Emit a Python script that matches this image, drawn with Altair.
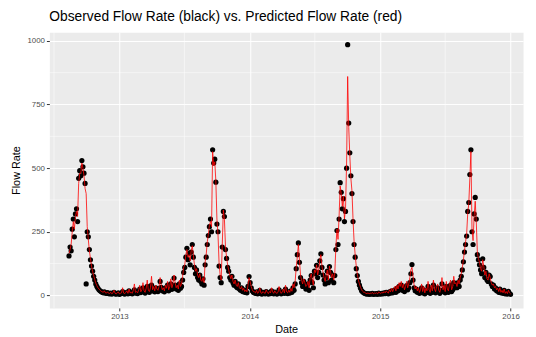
import altair as alt
import pandas as pd

# Observed flow rate, every 3 days from 2012-08-13
obs_2012_peak = [155, 190, 175, 260, 300, 230, 320, 340, 290, 460,
                 490, 470, 530, 505, 480, 440, 45, 250, 230, 180,
                 140, 115, 95, 75, 60, 45, 35, 28]
obs_2013_low = [22, 18, 15, 12, 10, 14, 9, 8, 11, 7,
                6, 9, 5, 8, 12, 6, 5, 7, 10, 4,
                6, 8, 15, 7, 5, 9, 12, 6, 18, 8,
                10, 6, 14, 22, 9, 12, 7, 16, 25, 11,
                18, 30, 14, 9, 20, 35, 15, 12, 24, 40,
                18, 26, 14, 30, 20, 15, 28, 55, 32, 18,
                25, 14, 30, 22, 40, 18, 28, 45, 24, 35,
                68, 40, 25, 32, 20, 45, 28, 35, 60, 90]
obs_2013_peak = [110, 150, 185, 140, 165, 120, 170, 200, 150, 110,
                 85, 100, 70, 60, 80, 55, 45, 65, 40, 120,
                 150, 200, 235, 270, 300, 250, 572, 520, 535, 445,
                 280, 250, 115, 70, 50, 190, 330, 310, 180, 145,
                 110, 95, 70, 60, 75, 50, 40, 55, 35, 30,
                 45, 25, 20, 30, 15, 22, 12, 18, 10, 35,
                 74, 50, 30, 18, 12]
obs_2014_low = [10, 8, 14, 6, 9, 20, 7, 5, 12, 8,
                6, 15, 9, 5, 11, 7, 18, 10, 6, 13,
                8, 5, 9, 22, 12, 6, 10, 15, 8, 25,
                10, 7, 14, 9, 18, 12, 30, 20]
obs_2014_peak = [45, 105, 160, 206, 130, 70, 50, 35, 55, 40,
                 25, 30, 45, 20, 60, 78, 50, 30, 95, 85,
                 118, 70, 90, 136, 163, 110, 80, 60, 45, 70,
                 95, 50, 113, 90, 60, 80, 50, 78, 180, 255,
                 200, 300, 443, 405, 340, 380, 290, 330, 500, 985,
                 677, 560, 470, 400, 290, 200, 150, 105, 78, 55,
                 40, 28, 18, 14, 10]
obs_2015_low = [8, 6, 5, 7, 4, 6, 5, 8, 4, 6,
                5, 7, 4, 9, 6, 5, 8, 6, 10, 7,
                12, 8, 6, 14, 9, 18, 10, 15, 22, 12,
                28, 18, 35, 25, 40, 20, 30, 15, 25, 38,
                22, 30, 50, 85, 121, 60, 30, 18, 25, 12,
                20, 8, 15, 30, 10, 22, 6, 18, 12, 35,
                15, 8, 25, 12, 40, 18, 10, 22, 30, 14,
                8, 20, 45, 15, 25, 10, 35, 18, 12, 28,
                40, 15, 22, 50, 30]
obs_2015_peak = [40, 30, 50, 35, 60, 75, 100, 132, 170, 200,
                 233, 330, 365, 475, 572, 250, 200, 320, 385, 300,
                 160, 140, 120, 100, 85, 144, 110, 70, 90, 60,
                 55, 80, 74, 45, 35, 40, 25, 30, 18, 22,
                 12, 25, 10, 15, 8, 20, 6, 12, 5, 16,
                 8, 4]

# Predicted flow rate, same dates
pred_2012_peak = [165, 180, 200, 250, 290, 260, 310, 330, 310, 440,
                  480, 480, 520, 500, 470, 420, 400, 270, 220, 175,
                  145, 115, 95, 78, 62, 48, 38, 30]
pred_2013_low = [25, 20, 16, 14, 12, 18, 10, 9, 14, 8,
                 8, 12, 6, 10, 20, 8, 6, 9, 14, 6,
                 8, 10, 30, 9, 7, 12, 18, 8, 25, 10,
                 12, 8, 20, 45, 12, 15, 10, 22, 40, 14,
                 22, 50, 18, 12, 28, 60, 20, 15, 30, 75,
                 22, 35, 18, 40, 25, 20, 35, 70, 40, 22,
                 30, 18, 40, 28, 55, 22, 35, 65, 30, 45,
                 80, 50, 30, 40, 25, 60, 35, 45, 75, 110]
pred_2013_peak = [120, 160, 180, 150, 160, 135, 175, 195, 160, 120,
                  95, 105, 80, 70, 85, 60, 55, 70, 50, 130,
                  160, 210, 240, 275, 290, 270, 565, 510, 525, 450,
                  300, 240, 130, 80, 60, 200, 335, 300, 190, 150,
                  120, 100, 80, 65, 80, 55, 45, 60, 40, 35,
                  50, 30, 25, 35, 20, 28, 15, 22, 14, 40,
                  70, 55, 35, 22, 15]
pred_2014_low = [14, 10, 20, 8, 12, 30, 10, 8, 15, 10,
                 8, 22, 12, 7, 15, 10, 30, 14, 8, 18,
                 10, 8, 12, 35, 16, 8, 14, 25, 10, 40,
                 14, 10, 20, 12, 28, 16, 45, 30]
pred_2014_peak = [55, 110, 150, 200, 140, 80, 60, 45, 65, 50,
                  35, 40, 55, 30, 70, 85, 60, 40, 100, 90,
                  120, 80, 100, 140, 160, 115, 90, 70, 55, 80,
                  100, 60, 115, 95, 70, 85, 60, 90, 190, 260,
                  220, 310, 430, 400, 350, 390, 300, 340, 520, 860,
                  660, 550, 460, 410, 300, 210, 160, 115, 85, 60,
                  45, 32, 22, 16, 12]
pred_2015_low = [12, 8, 7, 10, 6, 9, 7, 12, 6, 9,
                 8, 10, 6, 14, 9, 8, 12, 9, 15, 10,
                 18, 12, 9, 22, 14, 28, 15, 25, 35, 18,
                 40, 25, 50, 35, 55, 30, 45, 22, 35, 55,
                 30, 45, 70, 100, 110, 75, 40, 25, 35, 18,
                 30, 12, 22, 45, 15, 35, 10, 28, 18, 55,
                 22, 12, 40, 18, 60, 25, 15, 35, 45, 20,
                 12, 30, 70, 22, 40, 15, 55, 25, 18, 45,
                 60, 22, 35, 75, 45]
pred_2015_peak = [50, 35, 60, 45, 70, 85, 110, 140, 175, 210,
                  240, 320, 360, 460, 565, 260, 215, 310, 370, 290,
                  170, 145, 130, 105, 95, 140, 115, 80, 95, 65,
                  60, 85, 70, 50, 40, 45, 30, 35, 22, 28,
                  15, 30, 12, 20, 10, 25, 8, 15, 7, 20,
                  10, 6]

observed = (obs_2012_peak + obs_2013_low + obs_2013_peak + obs_2014_low
            + obs_2014_peak + obs_2015_low + obs_2015_peak)
predicted = (pred_2012_peak + pred_2013_low + pred_2013_peak + pred_2014_low
             + pred_2014_peak + pred_2015_low + pred_2015_peak)

dates = pd.date_range("2012-08-13", periods=len(observed), freq="3D")
df = pd.DataFrame({"date": dates, "observed": observed, "predicted": predicted})

year_ticks = [alt.DateTime(year=y, month=1, date=1) for y in [2013, 2014, 2015, 2016]]
y_ticks = [0, 250, 500, 750, 1000]
y_minor = [125, 375, 625, 875]
x_minor = pd.DataFrame({"d": pd.to_datetime(["2012-07-02", "2013-07-02", "2014-07-02", "2015-07-02"])})

font = "Liberation Sans"
x_scale = alt.Scale(domain=[alt.DateTime(year=2012, month=6, date=19), alt.DateTime(year=2016, month=2, date=5)])
y_scale = alt.Scale(domain=[-49.25, 1034.25], nice=False, zero=False)

x_enc = alt.X("date:T", scale=x_scale, title="Date",
              axis=alt.Axis(values=year_ticks, format="%Y", labelFontSize=8, labelColor="#4D4D4D",
                            tickColor="#333333", tickSize=3, labelPadding=2, titleFontSize=11,
                            titleFontWeight="normal", titleColor="black", titlePadding=3,
                            gridColor="white", gridWidth=1, domain=False, labelFont=font, titleFont=font))
y_enc = alt.Y("observed:Q", scale=y_scale, title="Flow Rate",
              axis=alt.Axis(values=y_ticks, format="d", labelFontSize=8, labelColor="#4D4D4D",
                            tickColor="#333333", tickSize=3, labelPadding=2, titleFontSize=11,
                            titleFontWeight="normal", titleColor="black", titlePadding=6,
                            gridColor="white", gridWidth=1, domain=False, labelFont=font, titleFont=font))

ymin_rules = alt.Chart(pd.DataFrame({"v": y_minor})).mark_rule(color="white", strokeWidth=0.5).encode(
    y=alt.Y("v:Q", scale=y_scale))
xmin_rules = alt.Chart(x_minor).mark_rule(color="white", strokeWidth=0.5).encode(
    x=alt.X("d:T", scale=x_scale))

points = alt.Chart(df).mark_circle(color="black", size=28, opacity=1).encode(x=x_enc, y=y_enc)
line = alt.Chart(df).mark_line(color="#FF0000", strokeWidth=0.8).encode(
    x=alt.X("date:T", scale=x_scale), y=alt.Y("predicted:Q", scale=y_scale))

chart = alt.layer(ymin_rules, xmin_rules, points, line).properties(
    width=481, height=280,
    title=alt.TitleParams("Observed Flow Rate (black) vs. Predicted Flow Rate (red)", anchor="start",
                          frame="group", fontSize=14, font=font, fontWeight="normal", color="black",
                          offset=8),
    padding={"left": 42, "top": 22, "right": 5, "bottom": 27},
    autosize=alt.AutoSizeParams(type="none"),
).configure_view(fill="#EBEBEB", stroke="transparent")

chart.save("out.html", embed_options={"renderer": "svg", "actions": False})
